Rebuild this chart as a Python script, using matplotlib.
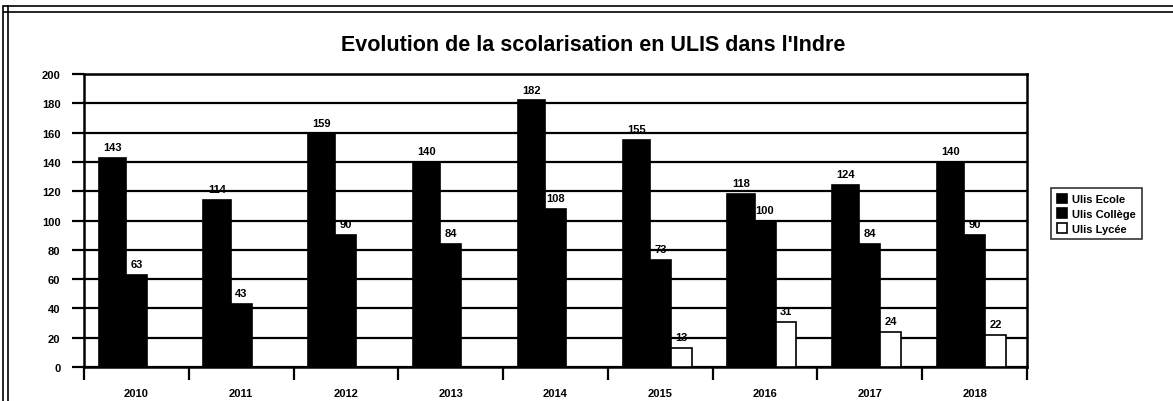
import matplotlib.pyplot as plt
import numpy as np
from matplotlib.lines import Line2D

plt.rcParams["font.family"] = ["Liberation Sans", "DejaVu Sans"]

years = ["2010", "2011", "2012", "2013", "2014", "2015", "2016", "2017", "2018"]
ulis_ecole = [143, 114, 159, 140, 182, 155, 118, 124, 140]
ulis_college = [63, 43, 90, 84, 108, 73, 100, 84, 90]
ulis_lycee = [0, 0, 0, 0, 0, 13, 31, 24, 22]
series_names = ["Ulis Ecole", "Ulis Collège", "Ulis Lycée"]
y_ticks = list(range(0, 201, 20))

fig = plt.figure(figsize=(11.73, 4.02), dpi=100)
ax = fig.add_axes([0.0716, 0.0846, 0.8039, 0.7288])

x = np.arange(len(years))
series = [ulis_ecole, ulis_college, ulis_lycee]
offsets = [-0.23, 0.0, 0.20]
widths = [0.26, 0.20, 0.20]
faces = ["black", "black", "white"]

for vals, off, w, fc, name in zip(series, offsets, widths, faces, series_names):
    vals = np.array(vals, dtype=float)
    ax.bar(x + off, vals, width=w, color=fc, edgecolor="black",
           linewidth=1.2, label=name, zorder=3)
    for xi, v in zip(x + off, vals):
        if v > 0:
            ax.text(xi, v + 4, f"{int(v)}", ha="center", va="bottom",
                    fontsize=8, fontweight="bold", zorder=4)

ax.set_xlim(-0.5, len(years) - 0.5)
ax.set_ylim(0, 200)
ax.set_yticks(y_ticks)
ax.set_yticklabels([str(t) for t in y_ticks], fontsize=8, fontweight="bold")
ax.yaxis.grid(True, color="black", linewidth=1.6, zorder=0)
ax.set_axisbelow(True)

# ticks at category boundaries, labels at centres
ax.set_xticks(np.arange(-0.5, len(years), 1.0))
ax.set_xticklabels([])
ax.set_xticks(x, minor=True)
ax.set_xticklabels(years, minor=True, fontsize=8, fontweight="bold")
ax.tick_params(axis="x", which="major", length=9, width=1.6, direction="out")
ax.tick_params(axis="x", which="minor", length=0, pad=15)
ax.tick_params(axis="y", length=9, width=1.6, pad=8)

for side in ["left", "right", "top", "bottom"]:
    ax.spines[side].set_linewidth(1.8)

ax.set_title("Evolution de la scolarisation en ULIS dans l'Indre",
             fontsize=15.5, fontweight="bold", pad=17, x=0.54)

leg = ax.legend(loc="upper left", bbox_to_anchor=(1.02, 0.63),
                frameon=True, fancybox=False, edgecolor="black",
                handlelength=0.9, handleheight=0.9, handletextpad=0.5,
                borderpad=0.5, labelspacing=0.4, prop={"weight": "bold", "size": 8})
leg.get_frame().set_linewidth(1.2)

# scanned-page border lines
for yy in [1 - 7 / 402, 1 - 13 / 402]:
    fig.add_artist(Line2D([0.003, 1.0], [yy, yy], color="black", linewidth=1.2,
                          transform=fig.transFigure))
for xx in [3 / 1173, 8 / 1173]:
    fig.add_artist(Line2D([xx, xx], [0.0, 1 - 7 / 402], color="black", linewidth=1.2,
                          transform=fig.transFigure))

fig.savefig("out.png", dpi=100)
